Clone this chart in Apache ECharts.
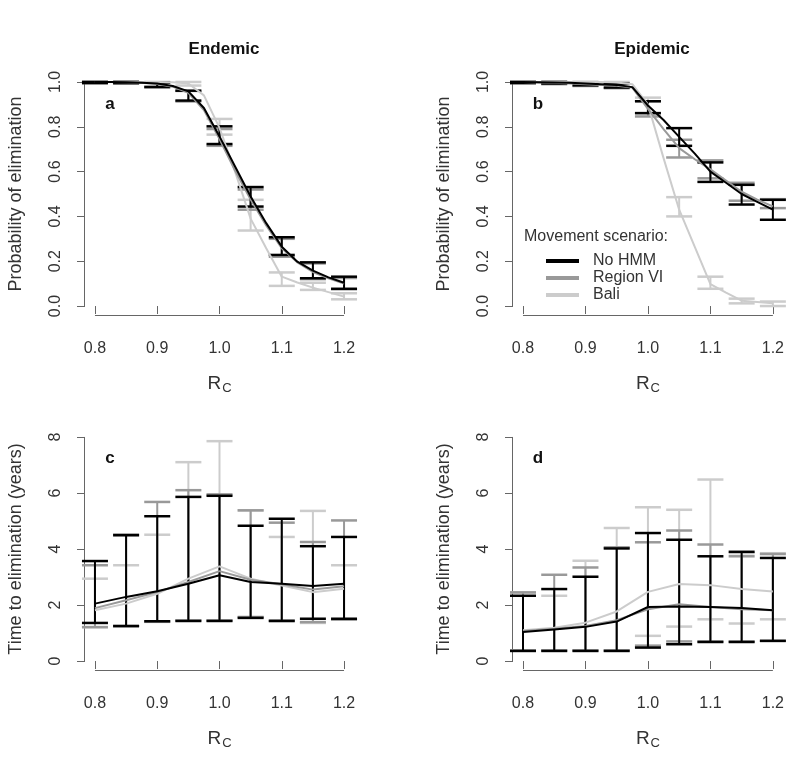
<!DOCTYPE html>
<html><head><meta charset="utf-8">
<script src="https://cdn.jsdelivr.net/npm/echarts@6/dist/echarts.min.js"></script>
<style>html,body{margin:0;padding:0;background:#fff}#c{width:787px;height:763px}</style>
</head><body><div id="c"></div>
<script>
// ---------- data ----------
const rc = [0.8, 0.85, 0.9, 0.95, 1.0, 1.05, 1.1, 1.15, 1.2];
const rcFine = [0.8, 0.825, 0.85, 0.875, 0.9, 0.925, 0.95, 0.975, 1.0, 1.025, 1.05, 1.075, 1.1, 1.125, 1.15, 1.175, 1.2];
const xTicks = [0.8, 0.9, 1.0, 1.1, 1.2];
const probTicks = [0, 0.2, 0.4, 0.6, 0.8, 1.0];
const timeTicks = [0, 2, 4, 6, 8];
const scenarios = ['No HMM', 'Region VI', 'Bali'];
const panelTitles = ['Endemic', 'Epidemic'];
const panelLetters = ['a', 'b', 'c', 'd'];

// Panel a: endemic, probability of elimination (fine grid lines)
const aNoHMM = [1.0, 1.0, 0.999, 0.997, 0.993, 0.982, 0.958, 0.884, 0.757, 0.623, 0.489, 0.37, 0.265, 0.198, 0.158, 0.128, 0.104];
const aRegion = [1.0, 1.0, 0.999, 0.996, 0.991, 0.979, 0.952, 0.875, 0.745, 0.605, 0.475, 0.36, 0.258, 0.195, 0.152, 0.124, 0.1];
const aBali = [1.0, 1.0, 1.0, 1.0, 1.0, 0.999, 0.993, 0.94, 0.795, 0.6, 0.39, 0.258, 0.131, 0.105, 0.082, 0.062, 0.042];
const aNoHMMLo = [0.995, 0.995, 0.978, 0.917, 0.723, 0.444, 0.228, 0.124, 0.077];
const aNoHMMHi = [1.0, 1.0, 0.998, 0.961, 0.802, 0.531, 0.307, 0.195, 0.131];
const aRegionLo = [0.995, 0.993, 0.975, 0.913, 0.715, 0.43, 0.22, 0.12, 0.075];
const aRegionHi = [1.0, 1.0, 0.997, 0.96, 0.79, 0.52, 0.3, 0.19, 0.125];
const aBaliLo = [1.0, 1.0, 0.998, 0.984, 0.765, 0.337, 0.09, 0.072, 0.03];
const aBaliHi = [1.0, 1.0, 1.0, 1.0, 0.835, 0.474, 0.15, 0.104, 0.057];

// Panel b: epidemic, probability of elimination
const bNoHMM = [1.0, 0.999, 0.998, 0.996, 0.993, 0.99, 0.987, 0.977, 0.895, 0.83, 0.755, 0.68, 0.6, 0.55, 0.5, 0.465, 0.43];
const bRegion = [1.0, 0.998, 0.996, 0.993, 0.99, 0.987, 0.983, 0.975, 0.88, 0.79, 0.705, 0.655, 0.61, 0.56, 0.51, 0.475, 0.445];
const bBali = [1.0, 1.0, 1.0, 1.0, 1.0, 1.0, 0.998, 0.99, 0.9, 0.66, 0.43, 0.264, 0.098, 0.06, 0.024, 0.018, 0.012];
const bNoHMMLo = [0.995, 0.993, 0.985, 0.975, 0.861, 0.715, 0.554, 0.453, 0.385];
const bNoHMMHi = [1.0, 1.0, 0.998, 0.992, 0.914, 0.794, 0.641, 0.541, 0.474];
const bRegionLo = [0.995, 0.99, 0.982, 0.972, 0.846, 0.663, 0.57, 0.47, 0.437];
const bRegionHi = [1.0, 0.999, 0.997, 0.99, 0.914, 0.742, 0.65, 0.55, 0.477];
const bBaliLo = [1.0, 1.0, 1.0, 0.995, 0.86, 0.40, 0.077, 0.012, 0.0];
const bBaliHi = [1.0, 1.0, 1.0, 1.0, 0.93, 0.486, 0.131, 0.033, 0.02];

// Panel c: endemic, time to elimination (years)
const cNoHMM = [2.05, 2.29, 2.49, 2.76, 3.06, 2.82, 2.76, 2.68, 2.76];
const cNoHMMLo = [1.36, 1.25, 1.42, 1.43, 1.43, 1.54, 1.43, 1.51, 1.51];
const cNoHMMHi = [3.57, 4.49, 5.17, 5.86, 5.9, 4.83, 5.08, 4.1, 4.43];
const cRegion = [1.89, 2.17, 2.46, 2.82, 3.21, 2.9, 2.74, 2.55, 2.67];
const cRegionLo = [1.21, 1.25, 1.4, 1.45, 1.45, 1.57, 1.45, 1.39, 1.48];
const cRegionHi = [3.42, 4.52, 5.68, 6.1, 5.95, 5.38, 4.94, 4.25, 5.02];
const cBali = [1.81, 2.05, 2.4, 2.94, 3.38, 2.94, 2.7, 2.46, 2.58];
const cBaliLo = [1.21, 1.23, 1.42, 1.45, 1.45, 1.57, 1.43, 1.36, 1.48];
const cBaliHi = [2.94, 3.42, 4.51, 7.1, 7.85, 5.38, 4.43, 5.36, 3.42];

// Panel d: epidemic, time to elimination (years)
const dNoHMM = [1.04, 1.13, 1.22, 1.41, 1.93, 1.95, 1.93, 1.89, 1.81];
const dNoHMMLo = [0.36, 0.36, 0.36, 0.36, 0.48, 0.6, 0.68, 0.68, 0.72];
const dNoHMMHi = [2.33, 2.57, 3.01, 4.02, 4.57, 4.33, 3.74, 3.9, 3.68];
const dRegion = [1.07, 1.15, 1.25, 1.46, 1.85, 2.03, 1.93, 1.85, 1.81];
const dRegionLo = [0.38, 0.38, 0.38, 0.38, 0.55, 0.7, 0.7, 0.7, 0.72];
const dRegionHi = [2.45, 3.08, 3.34, 4.06, 4.24, 4.66, 4.16, 3.74, 3.82];
const dBali = [1.1, 1.19, 1.37, 1.77, 2.47, 2.75, 2.71, 2.57, 2.48];
const dBaliLo = [0.38, 0.38, 0.38, 0.38, 0.9, 1.23, 1.49, 1.34, 1.49];
const dBaliHi = [2.45, 2.33, 3.58, 4.75, 5.49, 5.4, 6.48, 3.85, 3.85];

// ---------- styling ----------
const FONT = "'Liberation Sans', Arial, sans-serif";
const colors = { 'No HMM': '#000000', 'Region VI': '#999999', 'Bali': '#cccccc' };
const axisColor = '#666666';
const textColor = '#333333';

const chart = echarts.init(document.getElementById('c'), null, { renderer: 'canvas' });

const grids = [
  { left: 85, top: 73, width: 269, height: 242 },
  { left: 513, top: 73, width: 270, height: 242 },
  { left: 85, top: 428, width: 269, height: 242 },
  { left: 513, top: 428, width: 270, height: 242 }
];

const yRanges = [
  { min: -0.04, max: 1.04, ticks: probTicks, fmt: v => v.toFixed(1), name: 'Probability of elimination' },
  { min: -0.04, max: 1.04, ticks: probTicks, fmt: v => v.toFixed(1), name: 'Probability of elimination' },
  { min: -0.32, max: 8.32, ticks: timeTicks, fmt: v => String(Math.round(v)), name: 'Time to elimination (years)' },
  { min: -0.32, max: 8.32, ticks: timeTicks, fmt: v => String(Math.round(v)), name: 'Time to elimination (years)' }
];

const xAxes = grids.map((g, i) => ({
  type: 'value', gridIndex: i, min: 0.784, max: 1.216,
  splitLine: { show: false }, axisLine: { show: false },
  axisTick: { show: true, customValues: xTicks, length: 8, lineStyle: { color: axisColor, width: 1 } },
  axisLabel: { customValues: xTicks, formatter: v => v.toFixed(1), margin: 26, fontSize: 16, color: textColor, fontFamily: FONT },
  name: '{r|R}{s|C}', nameLocation: 'middle', nameGap: 58,
  nameTextStyle: { rich: {
    r: { fontSize: 19, color: textColor, fontFamily: FONT, lineHeight: 22 },
    s: { fontSize: 13, color: textColor, fontFamily: FONT, lineHeight: 22, padding: [9, 0, 0, 1] }
  } }
}));

const yAxes = grids.map((g, i) => ({
  type: 'value', gridIndex: i, min: yRanges[i].min, max: yRanges[i].max,
  splitLine: { show: false }, axisLine: { show: false },
  axisTick: { show: true, customValues: yRanges[i].ticks, length: 8, lineStyle: { color: axisColor, width: 1 } },
  axisLabel: { customValues: yRanges[i].ticks, formatter: yRanges[i].fmt, rotate: 90, margin: 21, fontSize: 16, color: textColor, fontFamily: FONT },
  name: yRanges[i].name, nameLocation: 'middle', nameGap: 60,
  nameTextStyle: { fontSize: 18, color: textColor, fontFamily: FONT }
}));

function lineSeries(name, xs, ys, gi) {
  return {
    type: 'line', name: name, xAxisIndex: gi, yAxisIndex: gi,
    data: xs.map((x, k) => [x, ys[k]]), symbol: 'none', showSymbol: false,
    lineStyle: { color: colors[name], width: 2 }, itemStyle: { color: colors[name] },
    silent: true, animation: false, clip: false
  };
}
function errSeries(name, lo, hi, gi) {
  const color = colors[name];
  return {
    type: 'custom', xAxisIndex: gi, yAxisIndex: gi, silent: true, animation: false, clip: false,
    data: rc.map((x, k) => [x, lo[k], hi[k]]),
    renderItem: function (params, api) {
      const x = api.value(0);
      const p1 = api.coord([x, api.value(1)]);
      const p2 = api.coord([x, api.value(2)]);
      const hw = 13;
      return {
        type: 'group', children: [
          { type: 'line', shape: { x1: p1[0], y1: p1[1], x2: p2[0], y2: p2[1] }, style: { stroke: color, lineWidth: 2 } },
          { type: 'line', shape: { x1: p1[0] - hw, y1: p1[1], x2: p1[0] + hw, y2: p1[1] }, style: { stroke: color, lineWidth: 2.5 } },
          { type: 'line', shape: { x1: p2[0] - hw, y1: p2[1], x2: p2[0] + hw, y2: p2[1] }, style: { stroke: color, lineWidth: 2.5 } }
        ]
      };
    }
  };
}

const panels = [
  { xs: rcFine, lines: { 'Bali': aBali, 'Region VI': aRegion, 'No HMM': aNoHMM },
    err: { 'Bali': [aBaliLo, aBaliHi], 'Region VI': [aRegionLo, aRegionHi], 'No HMM': [aNoHMMLo, aNoHMMHi] } },
  { xs: rcFine, lines: { 'Bali': bBali, 'Region VI': bRegion, 'No HMM': bNoHMM },
    err: { 'Bali': [bBaliLo, bBaliHi], 'Region VI': [bRegionLo, bRegionHi], 'No HMM': [bNoHMMLo, bNoHMMHi] } },
  { xs: rc, lines: { 'Bali': cBali, 'Region VI': cRegion, 'No HMM': cNoHMM },
    err: { 'Bali': [cBaliLo, cBaliHi], 'Region VI': [cRegionLo, cRegionHi], 'No HMM': [cNoHMMLo, cNoHMMHi] } },
  { xs: rc, lines: { 'Bali': dBali, 'Region VI': dRegion, 'No HMM': dNoHMM },
    err: { 'Bali': [dBaliLo, dBaliHi], 'Region VI': [dRegionLo, dRegionHi], 'No HMM': [dNoHMMLo, dNoHMMHi] } }
];

const series = [];
panels.forEach((p, gi) => {
  ['Bali', 'Region VI', 'No HMM'].forEach(name => {
    series.push(errSeries(name, p.err[name][0], p.err[name][1], gi));
    series.push(lineSeries(name, p.xs, p.lines[name], gi));
  });
});

const letterPos = [[110, 104], [538, 104], [110, 458], [538, 458]];

chart.setOption({
  backgroundColor: '#ffffff',
  animation: false,
  title: [
    { text: panelTitles[0], left: 219, top: 36, textAlign: 'center', textStyle: { fontSize: 17, fontWeight: 'bold', color: '#111', fontFamily: FONT } },
    { text: panelTitles[1], left: 647, top: 36, textAlign: 'center', textStyle: { fontSize: 17, fontWeight: 'bold', color: '#111', fontFamily: FONT } }
  ],
  grid: grids,
  xAxis: xAxes,
  yAxis: yAxes,
  legend: {
    data: scenarios, orient: 'vertical', left: 546, top: 253, padding: 0,
    itemGap: 1, itemWidth: 33, itemHeight: 4, icon: 'rect', selectedMode: false,
    textStyle: { fontSize: 16, color: textColor, fontFamily: FONT, lineHeight: 16, padding: [0, 0, 0, 9] }
  },
  series: series
});

// R-style axis lines spanning the tick range, plus panel letters and legend title
const graphics = [];
grids.forEach((g, i) => {
  const yr = yRanges[i];
  const a = chart.convertToPixel({ gridIndex: i }, [xTicks[0], yr.min]);
  const b = chart.convertToPixel({ gridIndex: i }, [xTicks[xTicks.length - 1], yr.min]);
  const yy = Math.round(a[1]) + 0.5;
  graphics.push({ type: 'line', shape: { x1: a[0], y1: yy, x2: b[0], y2: yy }, style: { stroke: axisColor, lineWidth: 1 }, silent: true });
  const c = chart.convertToPixel({ gridIndex: i }, [0.784, yr.ticks[0]]);
  const d = chart.convertToPixel({ gridIndex: i }, [0.784, yr.ticks[yr.ticks.length - 1]]);
  const xx = Math.round(c[0]) - 0.5;
  graphics.push({ type: 'line', shape: { x1: xx, y1: c[1], x2: xx, y2: d[1] }, style: { stroke: axisColor, lineWidth: 1 }, silent: true });
  graphics.push({ type: 'text', x: letterPos[i][0], y: letterPos[i][1], silent: true,
    style: { text: panelLetters[i], font: 'bold 17px ' + FONT, fill: '#111', align: 'center', verticalAlign: 'middle' } });
});
graphics.push({ type: 'text', x: 524, y: 237, silent: true,
  style: { text: 'Movement scenario:', font: '16px ' + FONT, fill: textColor, align: 'left', verticalAlign: 'middle' } });
chart.setOption({ graphic: graphics });
</script>
</body></html>
